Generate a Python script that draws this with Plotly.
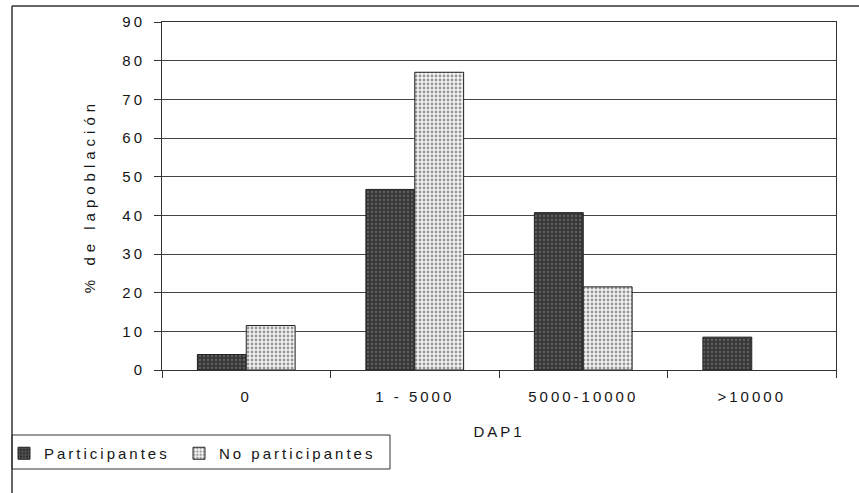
import plotly.graph_objects as go

categories = ["0", "1 - 5000", "5000-10000", ">10000"]
participantes = [4, 46.7, 40.7, 8.5]
no_participantes = [11.5, 77.0, 21.5, 0]
y_ticks = [0, 10, 20, 30, 40, 50, 60, 70, 80, 90]

W, H = 859, 493
L, R, T, B = 162, 836, 22, 370

def px_x(p):
    return (p - L) / (R - L)

def px_y(p):
    return (B - p) / (B - T)

font = "Liberation Sans, Arial, sans-serif"

fig = go.Figure()
fig.add_trace(go.Bar(
    x=categories, y=participantes, name="Participantes",
    marker=dict(color="#3a3a3a", line=dict(color="#222222", width=1),
                pattern=dict(shape=".", fgcolor="#8a8a8a", bgcolor="#383838", size=4, solidity=0.25)),
))
fig.add_trace(go.Bar(
    x=categories, y=no_participantes, name="No participantes",
    marker=dict(color="#eeeeee",
                line=dict(color="#222222", width=[0 if v == 0 else 1 for v in no_participantes]),
                pattern=dict(shape=".", fgcolor="#3a3a3a", bgcolor="#f4f4f4", size=4, solidity=0.4)),
))

fig.update_layout(
    width=W, height=H,
    margin=dict(l=L, r=W - R, t=T, b=H - B, pad=0, autoexpand=False),
    paper_bgcolor="white", plot_bgcolor="white",
    barmode="group", bargap=0.42, bargroupgap=0,
    font=dict(family=font, size=15, color="#151515"),
    showlegend=True,
    legend=dict(orientation="h", x=px_x(4), y=px_y(437), xanchor="left", yanchor="top",
                borderwidth=0, bgcolor="rgba(0,0,0,0)",
                font=dict(family=font, size=15, color="#151515"),
                itemwidth=30, entrywidth=130, entrywidthmode="pixels"),
    xaxis=dict(showline=True, linecolor="#333333", linewidth=1, mirror=True, automargin=False,
               ticks="outside", ticklen=7, tickcolor="#333333", ticklabelstandoff=13,
               tickson="boundaries", showgrid=False,
               title=dict(text="DAP1", standoff=22, font=dict(size=15))),
    yaxis=dict(range=[0, 90], tickvals=y_ticks, showline=True, linecolor="#333333", linewidth=1,
               mirror=True, automargin=False, ticks="outside", ticklen=7, tickcolor="#333333",
               ticklabelstandoff=6,
               showgrid=True, gridcolor="#444444", gridwidth=1, zeroline=False,
               title=dict(text="% de lapoblación", standoff=29, font=dict(size=15))),
)

# outer chart frame (top and left edges visible)
fig.add_shape(type="line", xref="paper", yref="paper", x0=px_x(12), x1=px_x(859), y0=px_y(6), y1=px_y(6),
              line=dict(color="#333333", width=1.5))
fig.add_shape(type="line", xref="paper", yref="paper", x0=px_x(12), x1=px_x(12), y0=px_y(6), y1=px_y(493),
              line=dict(color="#333333", width=1.5))
# legend frame
fig.add_shape(type="rect", xref="paper", yref="paper", x0=px_x(12), x1=px_x(390), y0=px_y(435), y1=px_y(469),
              line=dict(color="#333333", width=1), fillcolor="rgba(0,0,0,0)")

post = """
var gd = document.getElementById('{plot_id}');
function ls(){
  gd.querySelectorAll('text').forEach(function(t){ t.style.letterSpacing='3px'; });
  gd.querySelectorAll('.ytitle').forEach(function(t){ t.style.letterSpacing='5px'; });
  gd.querySelectorAll('.legend .scrollbox, .legend').forEach(function(el){ el.removeAttribute('clip-path'); });
}
ls(); gd.on('plotly_afterplot', ls); setTimeout(ls, 50);
"""
fig.write_html("out.html", post_script=post)
